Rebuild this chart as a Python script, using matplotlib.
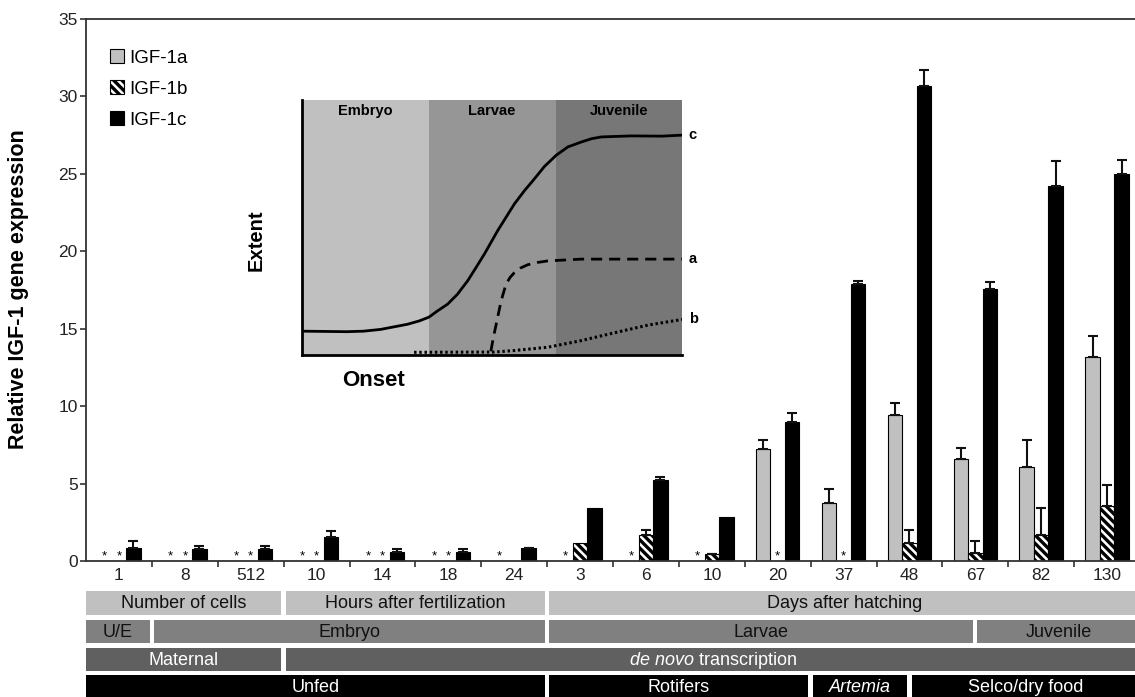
import numpy as np
import matplotlib.pyplot as plt
from matplotlib.patches import Rectangle

plt.rcParams['font.family'] = ['Liberation Sans', 'DejaVu Sans']
plt.rcParams['mathtext.fontset'] = 'custom'
plt.rcParams['mathtext.rm'] = 'Liberation Sans'
plt.rcParams['mathtext.it'] = 'Liberation Sans:italic'
plt.rcParams['hatch.linewidth'] = 2.4

# time points
groups = ['1', '8', '512', '10', '14', '18', '24', '3', '6', '10',
          '20', '37', '48', '67', '82', '130']
nan = np.nan

# relative expression (nan = not detected, drawn as *)
igf_a = [nan, nan, nan, nan, nan, nan, nan, nan, nan, nan,
         7.26, 3.76, 9.42, 6.57, 6.09, 13.2]
igf_a_err = [0, 0, 0, 0, 0, 0, 0, 0, 0, 0,
             0.56, 0.88, 0.76, 0.74, 1.70, 1.30]
igf_b = [nan, nan, nan, nan, nan, nan, 0.0, 1.18, 1.71, 0.43,
         nan, nan, 1.14, 0.54, 1.71, 3.58]
igf_b_err = [0, 0, 0, 0, 0, 0, 0, 0, 0.29, 0.05,
             0, 0, 0.88, 0.75, 1.72, 1.36]
igf_c = [0.84, 0.75, 0.75, 1.57, 0.60, 0.60, 0.82, 3.45, 5.26, 2.82,
         8.97, 17.86, 30.7, 17.58, 24.2, 25.0]
igf_c_err = [0.45, 0.20, 0.20, 0.35, 0.17, 0.17, 0.04, 0, 0.19, 0,
             0.58, 0.22, 1.0, 0.41, 1.6, 0.9]

# bands below the axis: (row, label, start, end)
bands = [
    (0, 'Number of cells', -0.5, 2.5),
    (0, 'Hours after fertilization', 2.5, 6.5),
    (0, 'Days after hatching', 6.5, 15.5),
    (1, 'U/E', -0.5, 0.5),
    (1, 'Embryo', 0.5, 6.5),
    (1, 'Larvae', 6.5, 13.0),
    (1, 'Juvenile', 13.0, 15.5),
    (2, 'Maternal', -0.5, 2.5),
    (2, r'$\it{de\ novo}$ transcription', 2.5, 15.5),
    (3, 'Unfed', -0.5, 6.5),
    (3, 'Rotifers', 6.5, 10.5),
    (3, 'Artemia', 10.5, 12.0),
    (3, 'Selco/dry food', 12.0, 15.5),
]
row_y = [(590.5, 615), (619.5, 643), (647.5, 671), (674.5, 700)]
row_fc = ['#c0c0c0', '#808080', '#606060', '#000000']
row_tc = ['#111111', '#111111', 'white', 'white']

# inset schematic, points
c_x = [0.0, 0.118, 0.162, 0.207, 0.277, 0.308, 0.334, 0.356, 0.383, 0.409, 0.436,
       0.458, 0.480, 0.515, 0.559, 0.586, 0.612, 0.638, 0.669, 0.700, 0.735,
       0.762, 0.788, 0.867, 0.947, 1.0]
c_y = [0.092, 0.090, 0.092, 0.099, 0.119, 0.132, 0.147, 0.171, 0.198, 0.237, 0.290,
       0.342, 0.395, 0.487, 0.592, 0.645, 0.691, 0.739, 0.783, 0.816, 0.835,
       0.848, 0.855, 0.859, 0.858, 0.862]
a_x = [0.497, 0.504, 0.511, 0.524, 0.537, 0.548, 0.559, 0.575, 0.594, 0.620, 0.647, 0.735, 1.0]
a_y = [0.013, 0.070, 0.119, 0.211, 0.277, 0.304, 0.322, 0.340, 0.353, 0.362, 0.368, 0.375, 0.375]
b_x = [0.295, 0.506, 0.559, 0.647, 0.735, 0.823, 0.911, 1.0]
b_y = [0.009, 0.010, 0.016, 0.029, 0.055, 0.086, 0.116, 0.138]

W, H = 1135, 697
fig = plt.figure(figsize=(W / 100, H / 100), dpi=100)
ax = fig.add_axes([86 / W, (H - 561) / H, 1054 / W, 542 / H])

x = np.arange(len(groups))
w = 0.22
series = [(igf_a, igf_a_err, -w, dict(color='#c0c0c0', label='IGF-1a')),
          (igf_b, igf_b_err, 0, dict(color='white', hatch='\\\\\\\\', label='IGF-1b')),
          (igf_c, igf_c_err, w, dict(color='black', label='IGF-1c'))]
for vals, errs, off, style in series:
    vals = np.array(vals, dtype=float)
    errs = np.array(errs, dtype=float)
    ok = ~np.isnan(vals)
    ax.bar(x[ok] + off, vals[ok], w, edgecolor='black', linewidth=0.8, zorder=2, **style)
    has_err = ok & (errs > 0)
    ax.errorbar(x[has_err] + off, vals[has_err],
                yerr=[np.zeros(has_err.sum()), errs[has_err]],
                fmt='none', ecolor='#111111', elinewidth=1.5, capsize=3.5,
                capthick=1.5, zorder=3)
    for xi in x[~ok]:
        ax.text(xi + off, -0.1, '*', ha='center', va='bottom', fontsize=9.5)

ax.set_xlim(-0.5, 15.5)
ax.set_ylim(0, 35)
ax.set_yticks(np.arange(0, 36, 5))
ax.set_xticks(x)
ax.set_xticklabels(groups)
ax.set_xticks(np.arange(0.5, 15.5, 1), minor=True)
ax.tick_params(axis='x', which='major', length=0, pad=5, labelsize=12.5, labelcolor='#222222')
ax.tick_params(axis='x', which='minor', length=4, width=1.2, color='#333333', direction='out')
ax.tick_params(axis='y', length=4, width=1.2, color='#333333', labelsize=12.5,
               labelcolor='#222222', pad=2)
for s in ax.spines.values():
    s.set_color('#333333')
    s.set_linewidth(1.3)

fig.text(19 / W, (H - 289) / H, 'Relative IGF-1 gene expression', rotation=90,
         ha='center', va='center', fontsize=15.5, fontweight='bold')

ax.legend(loc='upper left', bbox_to_anchor=(0.0228, 0.944), frameon=False, fontsize=13.5,
          handlelength=0.75, handleheight=0.75, handletextpad=0.25, labelspacing=0.72,
          borderpad=0, borderaxespad=0)

# bands
axb = fig.add_axes([86 / W, 0, 1054 / W, (H - 585) / H])
axb.set_xlim(-0.5, 15.5)
axb.set_ylim(H, 585)
axb.axis('off')
gap = 0.065
for row, label, x0, x1 in bands:
    left = x0 + (gap / 2 if x0 > -0.5 else 0)
    right = x1 - (gap / 2 if x1 < 15.5 else 0)
    top, bot = row_y[row]
    axb.add_patch(Rectangle((left, top), right - left, bot - top,
                            facecolor=row_fc[row], edgecolor='none'))
    yc = (top + min(bot, 697)) / 2 + (1 if row < 3 else 1.5)
    axb.text((left + right) / 2, yc, label, ha='center', va='center', fontsize=13,
             color=row_tc[row], style='italic' if label == 'Artemia' else 'normal')

# inset
axi = fig.add_axes([302 / W, (H - 354.6) / H, 380 / W, 254.6 / H])
axi.set_xlim(0, 1)
axi.set_ylim(0, 1)
axi.axvspan(0, 0.334, color='#c0c0c0', lw=0)
axi.axvspan(0.334, 0.669, color='#969696', lw=0)
axi.axvspan(0.669, 1, color='#777777', lw=0)
for lbl, xc in [('Embryo', 0.167), ('Larvae', 0.5), ('Juvenile', 0.835)]:
    axi.text(xc, 0.955, lbl, ha='center', va='center', fontsize=10.5, fontweight='bold')
axi.plot(c_x, c_y, color='black', lw=2, solid_joinstyle='round')
axi.plot(a_x, a_y, color='black', lw=2, linestyle=(0, (4, 2.5)))
axi.plot(b_x, b_y, color='black', lw=2.2, linestyle=(0, (0.8, 0.9)))
for lbl, yv in [('c', c_y[-1]), ('a', a_y[-1]), ('b', b_y[-1])]:
    axi.text(1.018, yv, lbl, ha='left', va='center', fontsize=10.5, fontweight='bold',
             transform=axi.transAxes, clip_on=False)
axi.set_xticks([])
axi.set_yticks([])
axi.spines['top'].set_visible(False)
axi.spines['right'].set_visible(False)
axi.spines['left'].set_linewidth(2)
axi.spines['bottom'].set_linewidth(2)
axi.text(0.187, -0.1, 'Onset', transform=axi.transAxes, ha='center', va='center',
         fontsize=16, fontweight='bold')
axi.text(-0.12, 0.45, 'Extent', transform=axi.transAxes, ha='center', va='center',
         fontsize=14.5, fontweight='bold', rotation=90)

fig.savefig('out.png', dpi=100)
